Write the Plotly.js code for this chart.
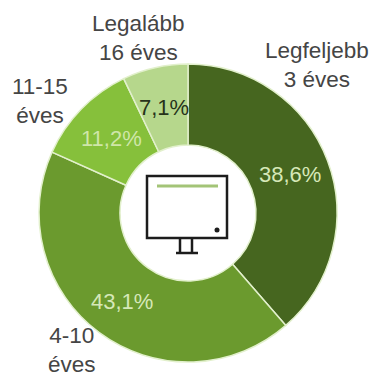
<!DOCTYPE html>
<html>
<head>
<meta charset="utf-8">
<script src="https://cdn.plot.ly/plotly-3.0.1.min.js"></script>
<style>html,body{margin:0;padding:0;background:#fff}#chart{width:372px;height:379px}</style>
</head>
<body>
<div id="chart"></div>
<script>
// Age groups and their shares, clockwise from twelve o'clock
const categories = ['Legfeljebb<br>3 éves', '4-10<br>éves', '11-15<br>éves', 'Legalább<br>16 éves'];
const shares = [38.6, 43.1, 11.2, 7.1];
const sliceColors = ['#46661f', '#6b9a2e', '#86c03b', '#b6d78c'];
const shareColors = ['#d6e8b8', '#d6e8b8', '#cfe6a8', '#26331a'];

// Label anchors in page pixels
const sharePos = [[290, 175], [122, 301], [111, 139], [164, 107]];
const namePos = [[317, 65], [72, 350], [40, 101], [138, 38]];

const W = 372, H = 379;
const px = x => x / W;
const py = y => 1 - y / H;
const font = 'Liberation Sans, Arial, sans-serif';

const annotations = [];
categories.forEach((name, i) => {
  annotations.push({
    xref: 'paper', yref: 'paper', x: px(namePos[i][0]), y: py(namePos[i][1]),
    text: name, showarrow: false, xanchor: 'center', yanchor: 'middle',
    font: {family: font, size: 22.5, color: '#454545'}
  });
  annotations.push({
    xref: 'paper', yref: 'paper', x: px(sharePos[i][0]), y: py(sharePos[i][1]),
    text: shares[i].toFixed(1).replace('.', ',') + '%', showarrow: false,
    xanchor: 'center', yanchor: 'middle',
    font: {family: font, size: 22, color: shareColors[i]}
  });
});

// Monitor pictogram in the middle of the ring
const ink = {color: '#1c1c1c', width: 2.5};
const paperShape = o => Object.assign({xref: 'paper', yref: 'paper'}, o,
  {x0: px(o.x0), x1: px(o.x1), y0: py(o.y0), y1: py(o.y1)});
const shapes = [
  {type: 'rect', x0: 147, x1: 227, y0: 176, y1: 238, line: ink},
  {type: 'line', x0: 157, x1: 218, y0: 186, y1: 186, line: {color: '#a3c477', width: 3}},
  {type: 'circle', x0: 214.5, x1: 219.5, y0: 227.5, y1: 232.5, fillcolor: '#1c1c1c', line: {width: 0}},
  {type: 'line', x0: 180, x1: 180, y0: 238, y1: 253, line: ink},
  {type: 'line', x0: 192, x1: 192, y0: 238, y1: 253, line: ink},
  {type: 'line', x0: 176, x1: 198, y0: 253, y1: 253, line: ink}
].map(paperShape);

Plotly.newPlot('chart', [{
  type: 'pie',
  labels: categories,
  values: shares,
  hole: 0.456,
  sort: false,
  direction: 'clockwise',
  rotation: 0,
  textinfo: 'none',
  hoverinfo: 'label+percent',
  marker: {colors: sliceColors, line: {color: '#e2f0cc', width: 1.5}},
  domain: {x: [px(39), px(337)], y: [py(362), py(64)]}
}], {
  width: W, height: H,
  margin: {l: 0, r: 0, t: 0, b: 0},
  paper_bgcolor: '#fff',
  showlegend: false,
  annotations, shapes
}, {displayModeBar: false, staticPlot: true});
</script>
</body>
</html>
